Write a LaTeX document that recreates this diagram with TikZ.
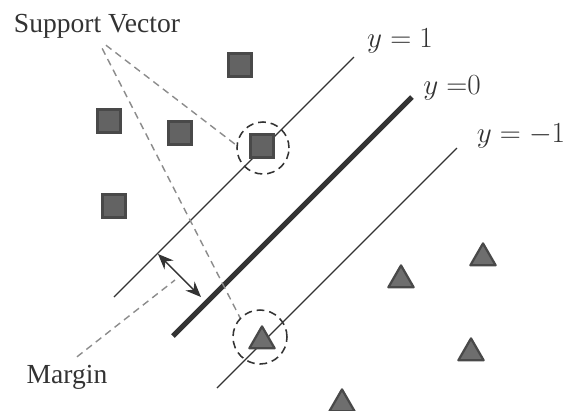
\documentclass[tikz,border=0pt]{standalone}
\usepackage{fontspec}
\newfontfamily\captionfont{Liberation Serif}
\usetikzlibrary{shapes.geometric,arrows.meta}

\definecolor{lineink}{HTML}{333333}
\definecolor{sqfill}{HTML}{636363}
\definecolor{trifill}{HTML}{6E6E6E}
\definecolor{markedge}{HTML}{494949}
\definecolor{calloutgray}{HTML}{8C8C8C}

\tikzset{
  sqmark/.style={rectangle, draw=markedge, fill=sqfill, line width=1.6pt, minimum size=0.57cm, inner sep=0pt},
  trimark/.style={regular polygon, regular polygon sides=3, draw=markedge, fill=trifill, line width=1.6pt, line join=round, minimum size=0.73cm, inner sep=0pt},
  svring/.style={circle, draw=lineink, line width=1.1pt, dash pattern=on 5.5pt off 3.5pt, inner sep=0pt},
  plane/.style={lineink, line width=0.9pt},
  callout/.style={calloutgray, line width=1pt, dash pattern=on 5pt off 3.5pt},
  caption/.style={font=\captionfont\fontsize{19.6}{22}\selectfont, text=lineink, inner sep=0pt},
  eqlabel/.style={font=\huge, text=lineink, inner sep=0pt}
}

\begin{document}
\begin{tikzpicture}[x=0.025cm, y=-0.025cm]
\useasboundingbox (0,0) rectangle (565,410);

% hyperplanes
\coordinate (pa1) at (114,297); \coordinate (pa2) at (354,57);
\coordinate (pb1) at (173,336); \coordinate (pb2) at (412,97);
\coordinate (pc1) at (217,388); \coordinate (pc2) at (457,148);
\draw[plane] (pa1) -- (pa2);
\draw[lineink, line width=3.6pt] (pb1) -- (pb2);
\draw[plane] (pc1) -- (pc2);

\node[eqlabel] (eqpos) at (400,41) {$y = 1$};
\node[eqlabel] (eqzero) at (452,88) {$y\;{=}0$};
\node[eqlabel] (eqneg) at (521,136) {$y = -1$};

% class one
\node[sqmark] (s1) at (240,65) {};
\node[sqmark] (s2) at (109,121) {};
\node[sqmark] (s3) at (180,133) {};
\node[sqmark] (s4) at (262,146) {};
\node[sqmark] (s5) at (114,206) {};

% class two
\node[trimark] (t1) at (401,280) {};
\node[trimark] (t2) at (483,258) {};
\node[trimark] (t3) at (471,353) {};
\node[trimark] (t4) at (262,341) {};
\node[trimark] (t5) at (342,404) {};

% support vectors
\node[svring, minimum size=1.3cm] (c1) at (263,148) {};
\node[svring, minimum size=1.35cm] (c2) at (260,337) {};

\node[caption] (sv) at (97,26) {Support Vector};
\draw[callout, shorten <=8pt] (sv.south) -- (c1.174);
\draw[callout, shorten <=8pt] (sv.south) -- (c2.136);

% margin
\coordinate (m1) at (158,254);
\coordinate (m2) at (201,297);
\draw[lineink, line width=1pt, {Stealth[length=11pt,width=9pt]}-{Stealth[length=11pt,width=9pt]}] (m1) -- (m2);

\node[caption] (margin) at (67,377) {Margin};
\coordinate (mtip) at (175,280);
\draw[callout, shorten <=9pt] (margin.north) -- (mtip);
\end{tikzpicture}
\end{document}
